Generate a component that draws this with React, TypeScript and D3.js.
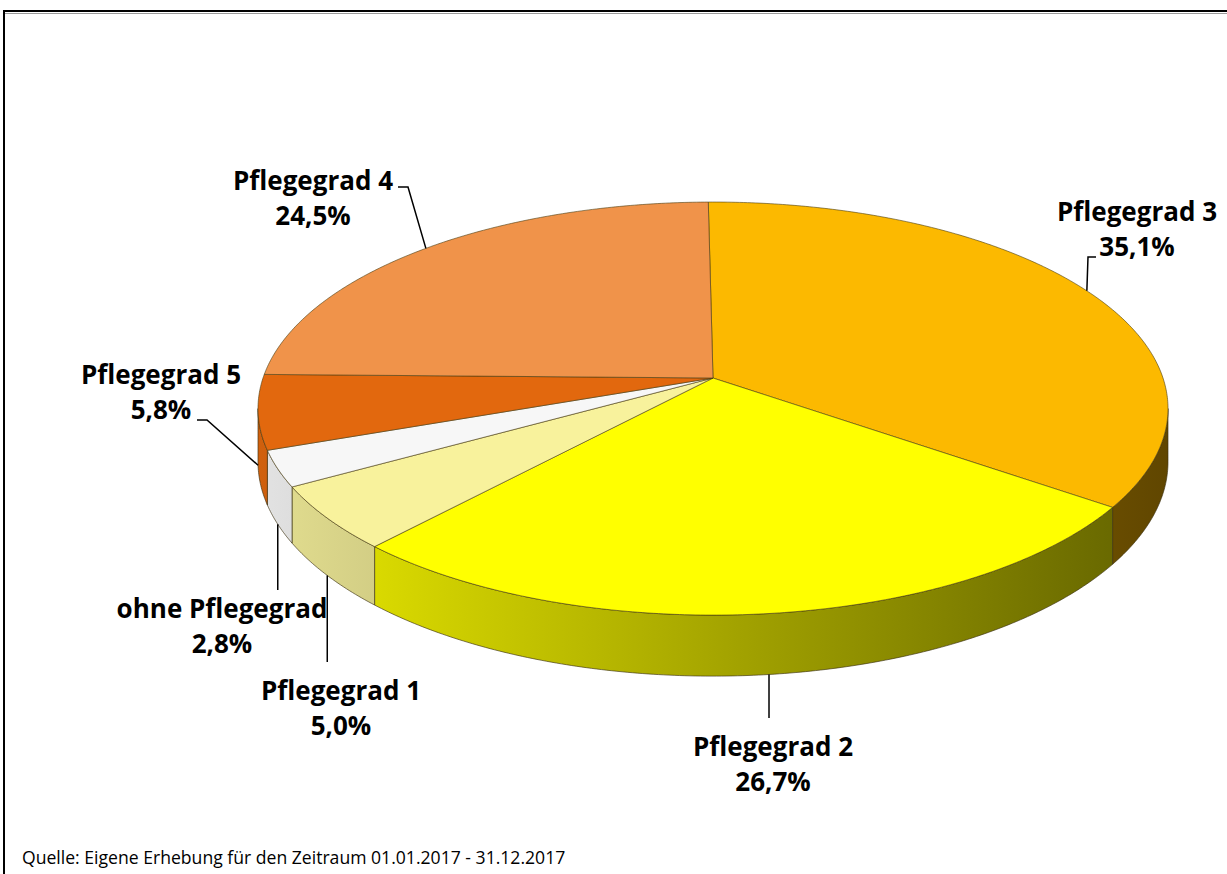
import React from 'react';
import * as d3 from 'd3';

// ---- data ----
const categories = ['Pflegegrad 3', 'Pflegegrad 2', 'Pflegegrad 1', 'ohne Pflegegrad', 'Pflegegrad 5', 'Pflegegrad 4'];
const values = [35.1, 26.7, 5.0, 2.8, 5.8, 24.5];
const valueLabels = ['35,1%', '26,7%', '5,0%', '2,8%', '5,8%', '24,5%'];
const sourceNote = 'Quelle: Eigene Erhebung für den Zeitraum 01.01.2017 - 31.12.2017';

// ---- styles / layout ----
const colors = ['#FCB900', '#FFFF00', '#F8F29C', '#F7F7F7', '#E2680E', '#F0934A'];
const labelLayout = [
  { x: 1137, y: 221, elbow: [[1088, 257], [1096, 257]], vertical: false },
  { x: 773, y: 756, elbowY: 718, vertical: true },
  { x: 341, y: 700, elbowY: 662, vertical: true },
  { x: 222, y: 618, elbowY: 590, vertical: true },
  { x: 161, y: 384, elbow: [[207, 420], [197, 420]], vertical: false },
  { x: 313, y: 190, elbow: [[408, 187], [398, 187]], vertical: false },
];

const W = 1227, H = 874;
const CX = 713, CY = 378, RX = 450, RY = 202, DEPTH = 52, K = 0.148;
const ROT = -0.012;

function proj(a: number, d: number): [number, number] {
  const u = Math.sin(a), v = -Math.cos(a);
  const s = 1 / (1 - K * v);
  return [CX + RX * u * s, CY + (RY * v + d) * s];
}

function sample(a0: number, a1: number, d: number): [number, number][] {
  const n = Math.max(2, Math.ceil(Math.abs(a1 - a0) / 0.01));
  return d3.range(n + 1).map(i => proj(a0 + (a1 - a0) * i / n, d));
}

const shade = (c: string, f: number) => {
  const r = d3.rgb(c);
  return d3.rgb(r.r * f, r.g * f, r.b * f).formatHex();
};

export default function App() {
  const pie = d3.pie<number>().sort(null).startAngle(ROT).endAngle(ROT + 2 * Math.PI)(values);
  const aL = Math.acos(-K);
  const aR = 2 * Math.PI - aL;
  const line = d3.line();
  const xLeft = proj(2 * Math.PI - aL, 0)[0];
  const xRight = proj(aL, 0)[0];
  const shadeScale = d3.scaleLinear().domain([xLeft, xRight]).range([0.92, 0.38]);

  const sides = pie.map((p, i) => {
    const a0 = Math.max(p.startAngle, aL), a1 = Math.min(p.endAngle, aR);
    if (a1 <= a0) return null;
    const top = sample(a0, a1, 0);
    const bot = sample(a0, a1, DEPTH).reverse();
    return { i, d: line([...top, ...bot])! + 'Z' };
  }).filter(Boolean) as { i: number; d: string }[];

  const tops = pie.map((p, i) => ({
    i,
    d: line([[CX, CY], ...sample(p.startAngle, p.endAngle, 0)])! + 'Z',
  }));

  const labels = pie.map((p, i) => {
    const mid = (p.startAngle + p.endAngle) / 2;
    const front = mid > aL && mid < aR;
    const edge = proj(mid, front ? DEPTH : 0);
    const L = labelLayout[i];
    const pts: [number, number][] = L.vertical
      ? [edge, [edge[0], L.elbowY as number]]
      : [edge, ...(L.elbow as [number, number][])];
    return { i, L, pts };
  });

  return (
    <svg width={W} height={H} style={{ position: 'absolute', left: 0, top: 0, background: '#fff' }}
      fontFamily="'Open Sans', sans-serif">
      <defs>
        {colors.map((c, i) => (
          <linearGradient key={i} id={`side-${i}`} gradientUnits="userSpaceOnUse" x1={xLeft} x2={xRight} y1={0} y2={0}>
            <stop offset="0" stopColor={shade(c, shadeScale(xLeft))} />
            <stop offset="0.5" stopColor={shade(c, shadeScale((xLeft + xRight) / 2))} />
            <stop offset="1" stopColor={shade(c, shadeScale(xRight))} />
          </linearGradient>
        ))}
      </defs>
      <rect x={4} y={11} width={1400} height={1000} fill="none" stroke="#000" strokeWidth={2} />
      <line x1={5} y1={13.5} x2={1227} y2={13.5} stroke="#999" strokeWidth={1} />
      {sides.map(s => (
        <path key={'s' + s.i} d={s.d} fill={`url(#side-${s.i})`} stroke="#3a3010" strokeWidth={0.8} strokeOpacity={0.8} />
      ))}
      {tops.map(t => (
        <path key={'t' + t.i} d={t.d} fill={colors[t.i]} stroke="#4a3c10" strokeWidth={0.8} strokeOpacity={0.75} strokeLinejoin="round" />
      ))}
      {labels.map(({ i, L, pts }) => (
        <g key={'l' + i}>
          <path d={line(pts)!} fill="none" stroke="#000" strokeWidth={1.5} />
          <text x={L.x} y={L.y} textAnchor="middle" fontSize={26} fontWeight={700} fill="#000">
            <tspan x={L.x} y={L.y}>{categories[i]}</tspan>
            <tspan x={L.x} y={L.y + 35}>{valueLabels[i]}</tspan>
          </text>
        </g>
      ))}
      <text x={22} y={864} fontSize={17.6} fill="#000">{sourceNote}</text>
    </svg>
  );
}
